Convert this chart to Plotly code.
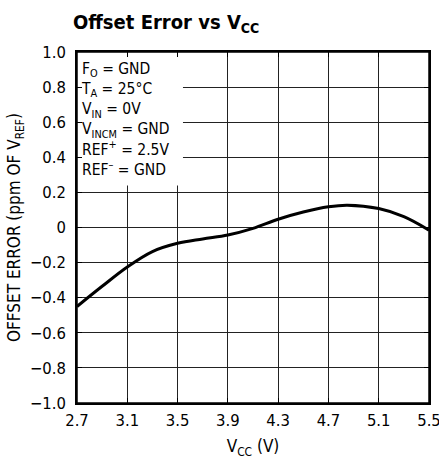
import plotly.graph_objects as go

vcc = [2.7, 2.9, 3.1, 3.3, 3.5, 3.7, 3.9, 4.1, 4.3, 4.5, 4.7, 4.85, 5.1, 5.3, 5.5]
offset_err = [-0.45, -0.335, -0.225, -0.137, -0.09, -0.065, -0.043, -0.005, 0.047, 0.088, 0.118, 0.127, 0.108, 0.062, -0.015]
x_ticks = [2.7, 3.1, 3.5, 3.9, 4.3, 4.7, 5.1, 5.5]
x_labels = ["2.7", "3.1", "3.5", "3.9", "4.3", "4.7", "5.1", "5.5"]
y_ticks = [-1.0, -0.8, -0.6, -0.4, -0.2, 0, 0.2, 0.4, 0.6, 0.8, 1.0]
y_labels = ["\u22121.0", "\u22120.8", "\u22120.6", "\u22120.4", "\u22120.2", "0", "0.2", "0.4", "0.6", "0.8", "1.0"]
conditions = ["F<sub>O</sub> = GND", "T<sub>A</sub> = 25°C", "V<sub>IN</sub> = 0V",
              "V<sub>INCM</sub> = GND", "REF<sup>+</sup> = 2.5V", "REF<sup>\u2013</sup> = GND"]

FONT = "DejaVu Sans Condensed, Liberation Sans Narrow, Arial Narrow, sans-serif"

W, H = 439, 465

fig = go.Figure()
fig.add_trace(go.Scatter(x=vcc, y=offset_err, mode="lines",
                         line=dict(color="black", width=3, shape="spline", smoothing=1.0),
                         hoverinfo="skip", showlegend=False))

fig.add_shape(type="rect", xref="x", yref="y", x0=2.7, x1=3.543, y0=0.24, y1=1.0,
              fillcolor="white", line=dict(width=0), layer="between")

# plot frame
fig.add_shape(type="rect", xref="paper", yref="paper", x0=0, x1=1, y0=0, y1=1,
              line=dict(color="black", width=1.5), fillcolor="rgba(0,0,0,0)", layer="above")

fig.add_annotation(xref="paper", yref="paper", x=0.0, y=0.984, xanchor="left", yanchor="top",
                   text="<br>".join(conditions), showarrow=False, align="left",
                   font=dict(family=FONT, size=15.5, color="black"), xshift=2)

axis_common = dict(showline=True, linecolor="black", linewidth=1.5, mirror="ticks",
                   showgrid=True, gridcolor="#222", gridwidth=1, zeroline=False,
                   ticks="inside", ticklen=5, tickcolor="black", automargin=False,
                   ticklabeloverflow="allow",
                   tickfont=dict(family=FONT, size=16.5, color="black"))

fig.update_xaxes(range=[2.7, 5.5], tickvals=x_ticks, ticktext=x_labels,
                 ticklabelstandoff=1,
                 title=dict(text="V<sub>CC</sub> (V)", font=dict(family=FONT, size=17, color="black"), standoff=12),
                 **axis_common)
fig.update_yaxes(range=[-1.0, 1.0], tickvals=y_ticks, ticktext=y_labels,
                 ticklabelstandoff=6,
                 title=dict(text="OFFSET ERROR (ppm OF V<sub>REF</sub>)", font=dict(family=FONT, size=17, color="black"), standoff=5),
                 **axis_common)

fig.update_layout(
    width=W, height=H,
    margin=dict(l=77, r=10, t=52, b=62),
    paper_bgcolor="white", plot_bgcolor="white",
    title=dict(text="<b>Offset Error vs V<sub>CC</sub></b>", x=73 / W, xanchor="left",
               y=1 - 22 / H, yanchor="middle",
               font=dict(family=FONT, size=20, color="black")),
)

page_fix = ("document.documentElement.style.margin='0';"
            "document.documentElement.style.overflow='hidden';"
            "document.body.style.margin='0';"
            "document.body.style.overflow='hidden';")

fig.write_html("out.html", post_script=page_fix, config={"displayModeBar": False})
